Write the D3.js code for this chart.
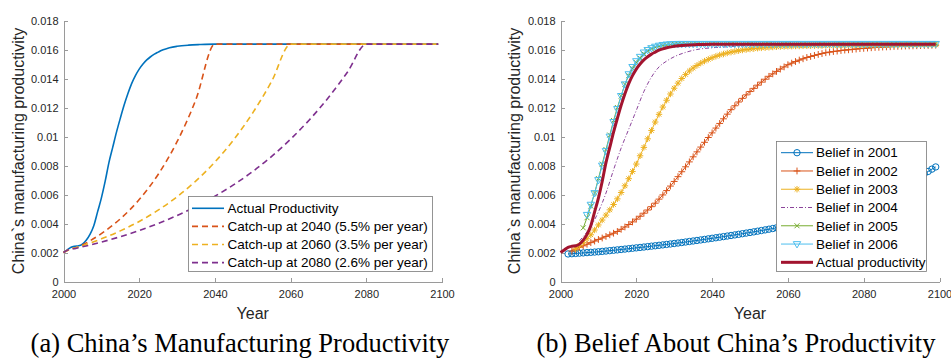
<!DOCTYPE html>
<html>
<head>
<meta charset="utf-8"/>
<title>China's productivity: catch-up paths and beliefs</title>
<script src="https://d3js.org/d3.v7.min.js"></script>
<style>
  body { margin: 0; background: #fff; }
  svg { display: block; }
  .axis text { font-family: "Liberation Sans", Arial, sans-serif; font-size: 11px; fill: #262626; }
  .axis path, .axis line { stroke: #9a9a9a; shape-rendering: crispEdges; }
  .axis-label { font-family: "Liberation Sans", Arial, sans-serif; font-size: 16px; fill: #262626; }
  .legend text { font-family: "Liberation Sans", Arial, sans-serif; font-size: 13.5px; fill: #000; }
  .caption { font-family: "Liberation Serif", "Times New Roman", serif; font-size: 26.5px; fill: #000; }
</style>
</head>
<body>
<div id="chart"></div>
<script>
// ---- data ----
var xTicks = [2000, 2020, 2040, 2060, 2080, 2100];
var yTicks = [0, 0.002, 0.004, 0.006, 0.008, 0.01, 0.012, 0.014, 0.016, 0.018];
var yTickLabels = ["0", "0.002", "0.004", "0.006", "0.008", "0.01", "0.012", "0.014", "0.016", "0.018"];

// actual productivity [year, value]
var actual = [[2000,.00200],[2001,.00218],[2002,.00236],[2003,.00243],[2004,.00246],[2005,.00258],
  [2006,.00285],[2007,.00325],[2008,.00385],[2009,.00480],[2010,.00575],[2011,.00690],[2012,.00820],
  [2013,.00925],[2014,.01030],[2015,.01125],[2016,.01215],[2017,.01295],[2018,.01365],[2019,.01420],
  [2020,.01465],[2021,.01500],[2022,.01528],[2023,.01550],[2024,.01568],[2025,.01582],[2026,.01595],
  [2027,.01604],[2028,.01612],[2030,.01622],[2033,.01630],[2036,.01634],[2040,.01637],[2099,.01637]];

// catch-up paths (left panel)
var catchup2040 = [[2000,.0020],[2002,.00225],[2004,.00239],[2005,.00252],[2010,.00330],[2015,.00432],
  [2020,.00565],[2025,.00738],[2030,.00964],[2035,.01256],[2040,.01637],[2099,.01637]];
var catchup2060 = [[2000,.0020],[2002,.00225],[2003,.00231],[2005,.00247],[2010,.00294],[2015,.00349],
  [2020,.00414],[2025,.00492],[2030,.00584],[2035,.00694],[2040,.00824],[2045,.00979],[2050,.01163],
  [2055,.01381],[2060,.01637],[2099,.01637]];
var catchup2080 = [[2000,.0020],[2002,.00225],[2003,.00227],[2005,.00239],[2010,.00272],[2015,.00309],
  [2020,.00352],[2025,.00400],[2030,.00455],[2035,.00517],[2040,.00588],[2045,.00668],[2050,.00759],
  [2055,.00863],[2060,.00982],[2065,.01116],[2070,.01269],[2075,.01443],[2080,.01637],[2099,.01637]];
var leftNames = ["Actual Productivity", "Catch-up at 2040 (5.5% per year)",
  "Catch-up at 2060 (3.5% per year)", "Catch-up at 2080 (2.6% per year)"];

// beliefs (right panel), one value per year from the start year
var belief2001Start = 2002;
var belief2001 = [.001900,.001918,.001936,.001955,.001973,.001992,.002011,.002030,.002050,
  .002076,.002101,.002128,.002154,.002181,.002208,.002236,.002263,.002292,.002320,
  .002348,.002377,.002406,.002436,.002465,.002496,.002526,.002557,.002588,.002620,
  .002654,.002688,.002723,.002758,.002794,.002830,.002867,.002904,.002942,.002980,
  .003018,.003056,.003095,.003134,.003174,.003214,.003255,.003296,.003338,.003380,
  .003424,.003469,.003514,.003560,.003607,.003654,.003702,.003750,.003799,.003850,
  .003911,.003972,.004035,.004098,.004163,.004228,.004295,.004362,.004431,.004500,
  .004583,.004667,.004753,.004841,.004930,.005020,.005113,.005207,.005302,.005400,
  .00551,.00562,.00573,.00585,.00597,.00609,.00621,.00634,.00647,.00660,
  .00673,.00687,.00701,.00715,.00730,.00744,.00759,.00775,.00790];
var belief2002Start = 2003;
var belief2002 = [.00210,.00222,.00235,.00246,.00257,.00268,.00279,.00290,
  .00300,.00311,.00322,.00333,.00345,.00360,.00376,.00393,.00411,.00430,
  .00450,.00471,.00493,.00516,.00540,.00568,.00597,.00627,.00658,.00690,
  .00723,.00757,.00791,.00825,.00860,.00894,.00927,.00960,.00993,.01025,
  .01058,.01090,.01122,.01154,.01185,.01212,.01238,.01263,.01287,.01310,
  .01332,.01354,.01375,.01395,.01415,.01432,.01449,.01465,.01480,.01495,
  .01506,.01517,.01527,.01536,.01545,.01552,.01559,.01566,.01572,.01578,
  .01582,.01586,.01589,.01593,.01596,.01598,.01601,.01603,.01606,.01608,
  .01610,.01612,.01614,.01615,.01617,.01618,.01619,.01621,.01622,.01623,
  .01624,.01625,.01625,.01626,.01627,.01628,.01628,.01629,.01630];
var belief2003Start = 2004;
var belief2003 = [.00225,.00247,.00270,.00295,.00322,.00355,.00390,
  .00424,.00458,.00494,.00531,.00570,.00614,.00660,.00709,.00759,.00810,
  .00867,.00925,.00984,.01042,.01100,.01153,.01203,.01250,.01293,.01333,
  .01368,.01400,.01428,.01452,.01472,.01490,.01506,.01520,.01532,.01543,
  .01553,.01562,.01569,.01576,.01582,.01587,.01592,.01596,.01600,.01603,
  .01606,.01609,.01611,.01613,.01615,.01617,.01619,.01620,.01621,.01622,
  .01623,.01624,.01624,.01625,.01625,.01626,.01626,.01627,.01627,.01628,
  .01628,.01628,.01629,.01629,.01629,.01629,.01630,.01630,.01630,.01630,
  .01631,.01631,.01631,.01631,.01631,.01631,.01631,.01631,.01631,.01631,
  .01632,.01632,.01632,.01632,.01632,.01632,.01632,.01632,.01632];
var belief2004 = [[2005,.0028],[2006,.0031],[2008,.0038],[2010,.0048],[2012,.0061],[2014,.0077],
  [2016,.0092],[2018,.0105],[2020,.0118],[2022,.0131],[2024,.0141],[2026,.0148],[2028,.0152],
  [2030,.0155],[2033,.0158],[2036,.0160],[2040,.01612],[2045,.0162],[2050,.01628],[2060,.01632],[2099,.01635]];
var belief2005Start = 2006;
var belief2005 = [.0037,.0044,.0052,.0061,.0071,.0081,.0091,.0101,.0111,.0120,.0128,.0136,.0142,.0147,
  .0151,.0154,.0157,.0159,.01605,.01615,.01622,.01627,.01631,.01634,.01636,.01637,.01638,.01639,
  .0164,.0164,.0164,.0164,.0164,.0164,.0164,.0164,.0164,.0164,.0164,.0164,.0164,.0164,.0164,.0164,
  .0164,.0164,.0164,.0164,.0164,.0164,.0164,.0164,.0164,.0164,.0164,.0164,.0164,.0164,.0164,.0164,
  .0164,.0164,.0164,.0164,.0164,.0164,.0164,.0164,.0164,.0164,.0164,.0164,.0164,.0164,.0164,.0164,
  .0164,.0164,.0164,.0164,.0164,.0164,.0164,.0164,.0164,.0164,.0164,.0164,.0164,.0164,.0164,.0164,
  .0164,.0164];
var belief2006Start = 2007;
var belief2006 = [.0046,.0053,.0061,.0070,.0080,.0090,.0100,.0110,.0119,.0128,.0136,.0143,.0148,.0152,
  .0155,.0158,.01597,.01610,.01620,.01627,.01632,.01635,.01637,.01638,
  .01639,.01639,.01639,.01639,.01639,.01639,.01639,.01639,.01639,.01639,.01639,.01639,.01639,.01639,
  .01639,.01639,.01639,.01639,.01639,.01639,.01639,.01639,.01639,.01639,.01639,.01639,.01639,.01639,
  .01639,.01639,.01639,.01639,.01639,.01639,.01639,.01639,.01639,.01639,.01639,.01639,.01639,.01639,
  .01639,.01639,.01639,.01639,.01639,.01639,.01639,.01639,.01639,.01639,.01639,.01639,.01639,.01639,
  .01639,.01639,.01639,.01639,.01639,.01639,.01639,.01639,.01639,.01639,.01639,.01639,.01639];
var rightNames = ["Belief in 2001", "Belief in 2002", "Belief in 2003", "Belief in 2004",
  "Belief in 2005", "Belief in 2006", "Actual productivity"];

// ---- layout ----
var W = 951, H = 358;
var blue = "#0072BD", orange = "#D95319", yellow = "#EDB120", purple = "#7E2F8E",
    green = "#77AC30", cyan = "#4DBEEE", darkred = "#A2142F";

function yearly(start, vals) {
    return vals.map(function(v, i){ return [start + i, v]; });
}

var svg = d3.select("#chart").append("svg").attr("width", W).attr("height", H);

function makeAxes(x0, x1, labelX) {
    var x = d3.scaleLinear().domain([2000, 2100]).range([x0, x1]);
    var y = d3.scaleLinear().domain([0, 0.018]).range([281.5, 20.5]);
    svg.append("g").attr("class", "axis")
        .attr("transform", "translate(0,281.5)")
        .call(d3.axisBottom(x).tickValues(xTicks).tickFormat(d3.format("d"))
            .tickSizeInner(-4).tickSizeOuter(0).tickPadding(9));
    svg.append("g").attr("class", "axis")
        .attr("transform", "translate(" + x0 + ",0)")
        .call(d3.axisLeft(y).tickValues(yTicks).tickFormat(function(d, i){ return yTickLabels[i]; })
            .tickSizeInner(-4).tickSizeOuter(0).tickPadding(5));
    svg.append("text").attr("class", "axis-label")
        .attr("transform", "translate(" + labelX + ",151) rotate(-90)")
        .attr("text-anchor", "middle").attr("dy", "0.35em")
        .text("China`s manufacturing productivity");
    svg.append("text").attr("class", "axis-label")
        .attr("x", (x0 + x1) / 2).attr("y", 313)
        .attr("text-anchor", "middle").attr("dy", "0.35em")
        .text("Year");
    return {x: x, y: y};
}

function marker(sel, type, color) {
    var d = {
        circle: "M3.2,0A3.2,3.2 0 1,1 -3.2,0A3.2,3.2 0 1,1 3.2,0Z",
        plus: "M-3.4,0H3.4M0,-3.4V3.4",
        star: "M-3.2,0H3.2M0,-3.2V3.2M-2.3,-2.3L2.3,2.3M-2.3,2.3L2.3,-2.3",
        cross: "M-2.5,-2.5L2.5,2.5M-2.5,2.5L2.5,-2.5",
        tri: "M-3.7,-2.4L3.7,-2.4L0,3.9Z"
    }[type];
    sel.append("path").attr("d", d).attr("fill", "none")
        .attr("stroke", color).attr("stroke-width", 1);
}

// ---- panel (a) ----
var A = makeAxes(63.5, 442, 18);
var lineA = d3.line().x(function(d){ return A.x(d[0]); }).y(function(d){ return A.y(d[1]); })
    .curve(d3.curveMonotoneX);
var leftSeries = [
    {data: actual, color: blue, dash: null},
    {data: catchup2040, color: orange, dash: "6,4"},
    {data: catchup2060, color: yellow, dash: "6,4"},
    {data: catchup2080, color: purple, dash: "6,4"}
];
leftSeries.forEach(function(s){
    svg.append("path").attr("d", lineA(s.data)).attr("fill", "none")
        .attr("stroke", s.color).attr("stroke-width", 1.6)
        .attr("stroke-dasharray", s.dash);
});

var legA = svg.append("g").attr("class", "legend");
legA.append("rect").attr("x", 188.5).attr("y", 196.5).attr("width", 244).attr("height", 75)
    .attr("fill", "#fff").attr("stroke", "#7a7a7a").attr("stroke-width", 0.8);
leftSeries.forEach(function(s, i){
    var yy = 208.3 + 18.1 * i;
    legA.append("line").attr("x1", 192).attr("x2", 224).attr("y1", yy).attr("y2", yy)
        .attr("stroke", s.color).attr("stroke-width", 1.6).attr("stroke-dasharray", s.dash);
    legA.append("text").attr("x", 227.5).attr("y", yy).attr("dy", "0.35em").text(leftNames[i]);
});

// ---- panel (b) ----
var B = makeAxes(560.5, 939.5, 514);
var lineB = d3.line().x(function(d){ return B.x(d[0]); }).y(function(d){ return B.y(d[1]); });
var rightSeries = [
    {data: yearly(belief2001Start, belief2001), color: blue, marker: "circle", width: 1, dash: null},
    {data: yearly(belief2002Start, belief2002), color: orange, marker: "plus", width: 1, dash: null},
    {data: yearly(belief2003Start, belief2003), color: yellow, marker: "star", width: 1, dash: null},
    {data: belief2004, color: purple, marker: null, width: 0.9, dash: "4,2,1,2", smooth: true},
    {data: yearly(belief2005Start, belief2005), color: green, marker: "cross", width: 1, dash: null},
    {data: yearly(belief2006Start, belief2006), color: cyan, marker: "tri", width: 1, dash: null},
    {data: actual, color: darkred, marker: null, width: 3, dash: null, smooth: true}
];
rightSeries.forEach(function(s){
    var gen = s.smooth ? lineB.curve(d3.curveMonotoneX) : lineB.curve(d3.curveLinear);
    svg.append("path").attr("d", gen(s.data)).attr("fill", "none")
        .attr("stroke", s.color).attr("stroke-width", s.width)
        .attr("stroke-dasharray", s.dash);
    if (s.marker) {
        svg.append("g").selectAll("g").data(s.data).join("g")
            .attr("transform", function(d){ return "translate(" + B.x(d[0]) + "," + B.y(d[1]) + ")"; })
            .each(function(){ marker(d3.select(this), s.marker, s.color); });
    }
});

var legB = svg.append("g").attr("class", "legend");
legB.append("rect").attr("x", 776.5).attr("y", 141.5).attr("width", 150).attr("height", 130)
    .attr("fill", "#fff").attr("stroke", "#7a7a7a").attr("stroke-width", 0.8);
rightSeries.forEach(function(s, i){
    var yy = 152.7 + 18.27 * i;
    legB.append("line").attr("x1", 781).attr("x2", 813).attr("y1", yy).attr("y2", yy)
        .attr("stroke", s.color).attr("stroke-width", s.width).attr("stroke-dasharray", s.dash);
    if (s.marker) {
        var mg = legB.append("g").attr("transform", "translate(797," + yy + ")");
        marker(mg, s.marker, s.color);
    }
    legB.append("text").attr("x", 816).attr("y", yy).attr("dy", "0.35em").text(rightNames[i]);
});

// ---- captions ----
svg.append("text").attr("class", "caption").attr("x", 240).attr("y", 352)
    .attr("text-anchor", "middle").text("(a) China’s Manufacturing Productivity");
svg.append("text").attr("class", "caption").attr("x", 736).attr("y", 352)
    .attr("text-anchor", "middle").text("(b) Belief About China’s Productivity");
</script>
</body>
</html>
